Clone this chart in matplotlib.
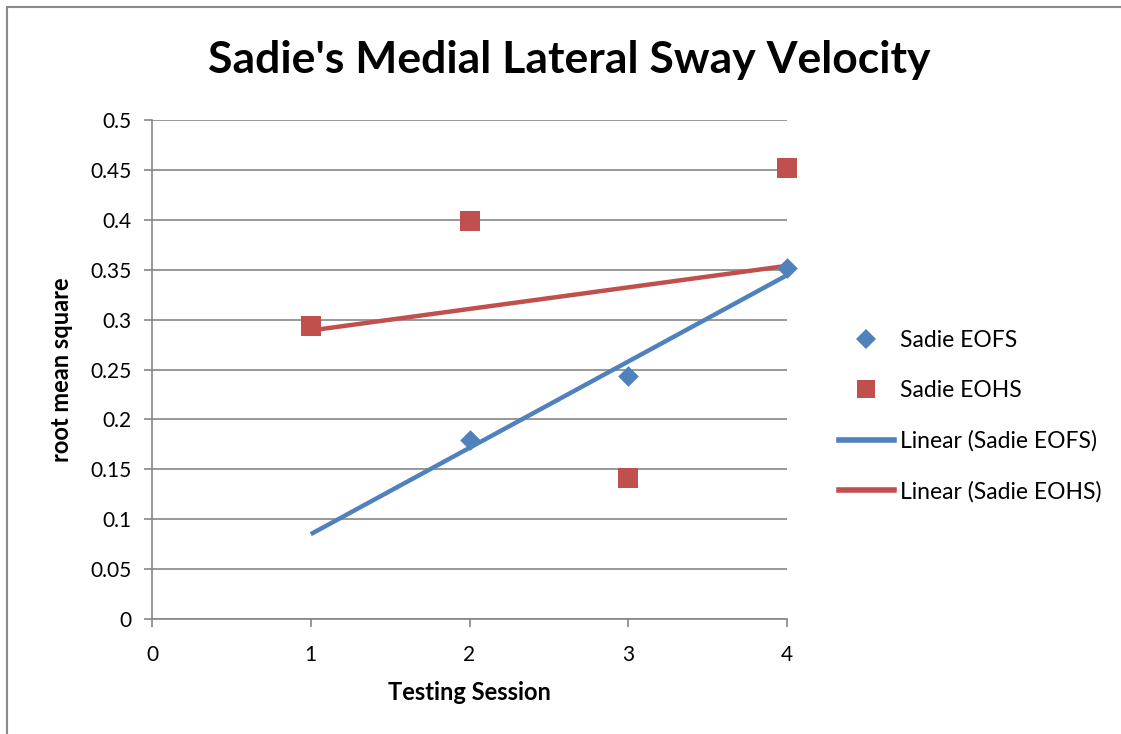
import numpy as np
import matplotlib
matplotlib.use('Agg')
import matplotlib.pyplot as plt
from matplotlib.lines import Line2D
from matplotlib.patches import Rectangle

# data
eofs_x = [2, 3, 4]
eofs_y = [0.179, 0.243, 0.352]
eohs_x = [1, 2, 3, 4]
eohs_y = [0.294, 0.399, 0.141, 0.452]
trend_start = 1  # EOFS trendline is extended back to session 1

blue = '#4F81BD'
red = '#C0504D'
grid_c = '#868686'

plt.rcParams['font.family'] = ['Lato', 'DejaVu Sans']

fig = plt.figure(figsize=(11.21, 7.34), dpi=100)
ax = fig.add_axes([152/1121, 1 - 619/734, (787 - 152)/1121, (619 - 120)/734])

# outer chart border
fig.patches.append(Rectangle((7/1121, -0.05), 1.2, 1 - 7/734 + 0.05, transform=fig.transFigure,
                             fill=False, edgecolor='#8a8a8a', linewidth=1.5))

# trendlines (least squares fits)
m1, b1 = np.polyfit(eofs_x, eofs_y, 1)
tx1 = np.array([trend_start, max(eofs_x)])
ax.plot(tx1, m1*tx1 + b1, color=blue, lw=3.2, solid_capstyle='butt', zorder=3, clip_on=False)
m2, b2 = np.polyfit(eohs_x, eohs_y, 1)
tx2 = np.array([min(eohs_x), max(eohs_x)])
ax.plot(tx2, m2*tx2 + b2, color=red, lw=3.2, solid_capstyle='butt', zorder=3, clip_on=False)

ax.scatter(eofs_x, eofs_y, marker='D', s=110, color=blue, zorder=4, linewidths=0, clip_on=False)
ax.scatter(eohs_x, eohs_y, marker='s', s=200, color=red, zorder=4, linewidths=0, clip_on=False)

ax.set_xlim(0, 4)
ax.set_ylim(0, 0.5)
ax.set_xticks([0, 1, 2, 3, 4])
ax.set_yticks(np.arange(0, 0.51, 0.05))
ax.set_yticklabels(['0', '0.05', '0.1', '0.15', '0.2', '0.25', '0.3', '0.35', '0.4', '0.45', '0.5'])
ax.yaxis.grid(True, color=grid_c, lw=1.2)
ax.set_axisbelow(True)
for s in ['top', 'right']:
    ax.spines[s].set_visible(False)
for s in ['left', 'bottom']:
    ax.spines[s].set_color(grid_c)
    ax.spines[s].set_linewidth(1.2)
ax.tick_params(colors=grid_c, labelcolor='black', labelsize=15, length=6, width=1.2)
ax.tick_params(axis='x', pad=13)
ax.tick_params(axis='y', pad=9)

ax.set_xlabel('Testing Session', fontsize=17, fontweight='bold', labelpad=11)
ax.set_ylabel('root mean square', fontsize=17, fontweight='bold', labelpad=12)
fig.text(569/1121, 1 - 60/734, "Sadie's Medial Lateral Sway Velocity", fontsize=32,
         fontweight='bold', ha='center', va='center')

handles = [
    Line2D([], [], marker='D', color=blue, ls='none', markersize=10, markeredgewidth=0),
    Line2D([], [], marker='s', color=red, ls='none', markersize=13, markeredgewidth=0),
    Line2D([], [], color=blue, lw=4),
    Line2D([], [], color=red, lw=4),
]
labels = ['Sadie EOFS', 'Sadie EOHS', 'Linear (Sadie EOFS)', 'Linear (Sadie EOHS)']
fig.legend(handles, labels, loc='center left', bbox_to_anchor=(818/1121, 1 - 416/734),
           frameon=False, fontsize=16.5, labelspacing=1.27, handlelength=2.4, handletextpad=0.3)

fig.savefig('out.png', dpi=100)
